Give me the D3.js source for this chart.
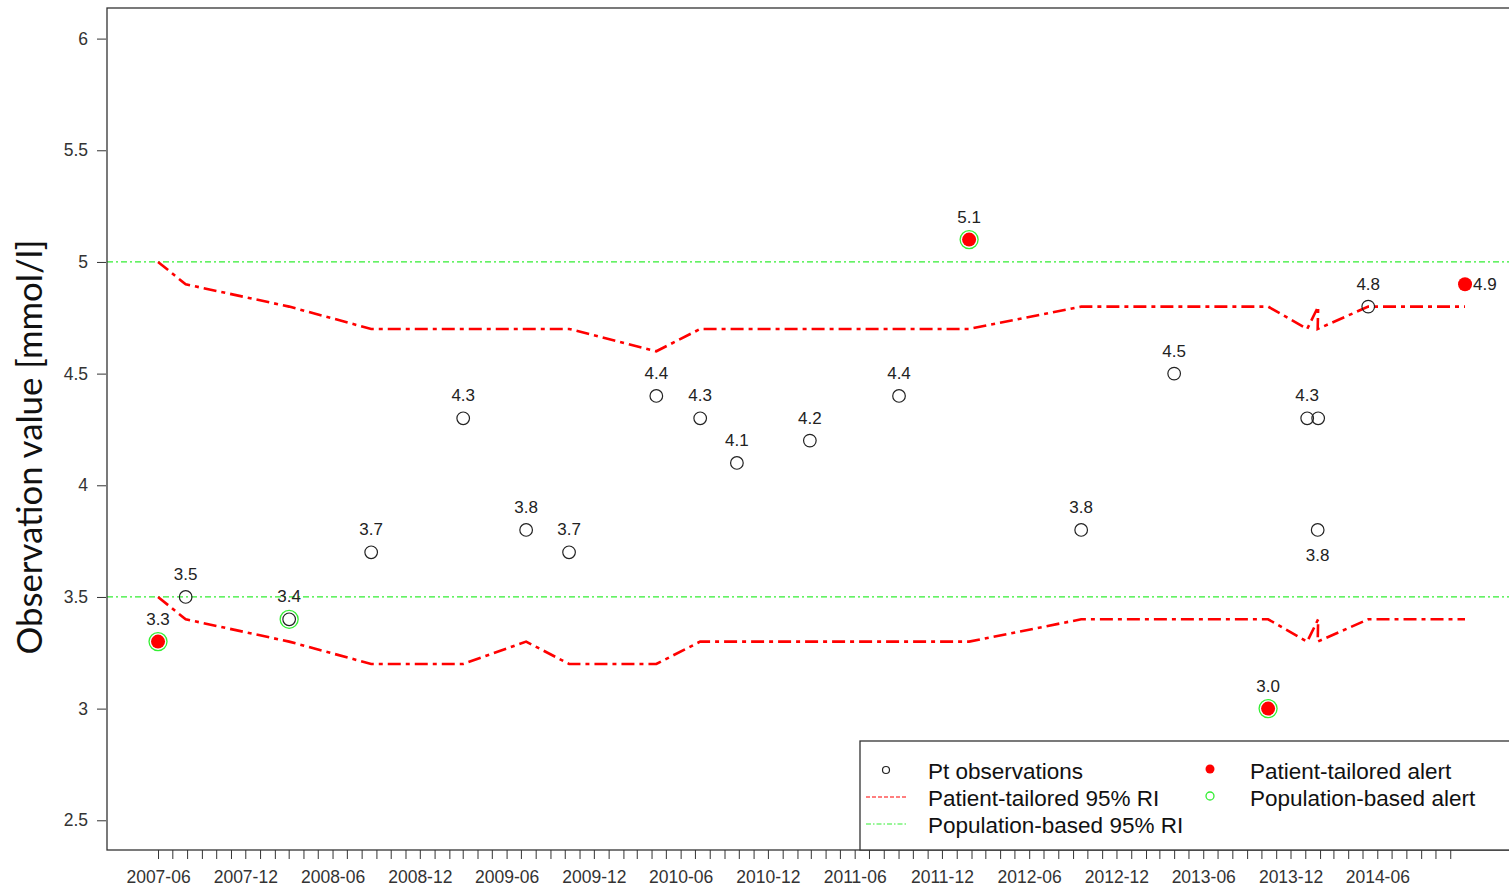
<!DOCTYPE html>
<html>
<head>
<meta charset="utf-8">
<script src="https://cdn.jsdelivr.net/npm/d3@7"></script>
<style>
  html, body { margin: 0; padding: 0; background: #fff; }
  svg { display: block; }
</style>
</head>
<body>
<svg id="chart" width="1509" height="888"></svg>
<script>
// ---------------- data ----------------
const obsDates = ["2007-06-01","2007-07-29","2008-03-02","2008-08-21","2009-03-02","2009-07-12","2009-10-10",
  "2010-04-11","2010-07-12","2010-09-27","2011-02-27","2011-09-02","2012-01-27","2012-09-18","2013-04-01",
  "2013-10-15","2014-01-05","2014-01-28","2014-01-27","2014-05-13","2014-12-02"];
const obsValues = [3.3,3.5,3.4,3.7,4.3,3.8,3.7,4.4,4.3,4.1,4.2,4.4,5.1,3.8,4.5,3.0,4.3,4.3,3.8,4.8,4.9];
const upperRI = [5.0,4.9,4.8,4.7,4.7,4.7,4.7,4.6,4.7,4.7,4.7,4.7,4.7,4.8,4.8,4.8,4.7,4.8,4.7,4.8,4.8];
const lowerRI = [3.5,3.4,3.3,3.2,3.2,3.3,3.2,3.2,3.3,3.3,3.3,3.3,3.3,3.4,3.4,3.4,3.3,3.4,3.3,3.4,3.4];
const patientAlert = [1,0,0,0,0,0,0,0,0,0,0,0,1,0,0,1,0,0,0,0,1];
const populationAlert = [1,0,1,0,0,0,0,0,0,0,0,0,1,0,0,1,0,0,0,0,0];
// R text() pos codes: 3 = above, 1 = below, 4 = right, 0 = no label
const labelPos = [3,3,3,3,3,3,3,3,3,3,3,3,3,3,3,3,3,0,1,3,4];
const popLimits = [3.5, 5.0];
const yTicks = [2.5,3,3.5,4,4.5,5,5.5,6];
const xTickStart = "2007-06-01", xTickEnd = "2014-11-01";
const yTitle = "Observation value [mmol/l]";
const legendLeft = ["Pt observations","Patient-tailored 95% RI","Population-based 95% RI"];
const legendRight = ["Patient-tailored alert","Population-based alert"];

// ---------------- layout ----------------
const parse = d3.utcParse("%Y-%m-%d");
const svg = d3.select("#chart");
const L = 107, R = 1517, T = 8, B = 850;
const RED = "#ff0000", GREEN = "#33ee33";
const FONT = "Liberation Sans, Arial, sans-serif";
const x = d3.scaleUtc().domain([parse("2007-02-14"), parse("2015-03-21")]).range([L, R]);
const y = d3.scaleLinear().domain([2.367, 6.137]).range([B, T]);

const data = obsDates.map((d, i) => ({
  date: parse(d), v: obsValues[i], up: upperRI[i], lo: lowerRI[i],
  pa: patientAlert[i], pop: populationAlert[i], pos: labelPos[i]
}));

// population-based lines
svg.selectAll("line.pop").data(popLimits).join("line")
  .attr("x1", L).attr("x2", R).attr("y1", d => y(d)).attr("y2", d => y(d))
  .attr("stroke", GREEN).attr("stroke-width", 1.2).attr("stroke-dasharray", "6,3,2,3");

// patient-tailored lines
const line = key => d3.line().x(d => x(d.date)).y(d => y(d[key]));
["up","lo"].forEach(k => {
  svg.append("path").datum(data).attr("d", line(k))
    .attr("fill", "none").attr("stroke", RED).attr("stroke-width", 2.6)
    .attr("stroke-dasharray", "13,5,4,5");
});

// points
const g = svg.append("g");
data.forEach(d => {
  const cx = x(d.date), cy = y(d.v);
  if (d.pop) g.append("circle").attr("cx", cx).attr("cy", cy).attr("r", 9)
      .attr("fill", "none").attr("stroke", GREEN).attr("stroke-width", 1.3);
  if (d.pa) g.append("circle").attr("cx", cx).attr("cy", cy).attr("r", 7).attr("fill", RED);
  else g.append("circle").attr("cx", cx).attr("cy", cy).attr("r", 6.3)
      .attr("fill", "none").attr("stroke", "#222").attr("stroke-width", 1.2);
  if (d.pos) {
    const t = g.append("text").text(d.v.toFixed(1))
      .attr("font-family", FONT).attr("font-size", 17).attr("fill", "#222");
    if (d.pos === 3) t.attr("x", cx).attr("y", cy - 17).attr("text-anchor", "middle");
    else if (d.pos === 1) t.attr("x", cx).attr("y", cy + 31).attr("text-anchor", "middle");
    else if (d.pos === 4) t.attr("x", cx + 8).attr("y", cy + 6).attr("text-anchor", "start");
  }
});

// frame
svg.append("rect").attr("x", L).attr("y", T).attr("width", R - L).attr("height", B - T)
  .attr("fill", "none").attr("stroke", "#333").attr("stroke-width", 1.3);

// y axis
const yAxis = svg.append("g").attr("transform", `translate(${L - 1},0)`)
  .call(d3.axisLeft(y).tickValues(yTicks).tickFormat(d => String(d)).tickSize(9).tickPadding(9));
yAxis.select(".domain").remove();
yAxis.selectAll("line").attr("stroke", "#333");
yAxis.selectAll("text").attr("font-family", FONT).attr("font-size", 17.5).attr("fill", "#333");

// x axis
const months = d3.utcMonth.range(parse(xTickStart), d3.utcMonth.offset(parse(xTickEnd), 1));
const xAxis = svg.append("g").attr("transform", `translate(0,${B})`)
  .call(d3.axisBottom(x).tickValues(months)
    .tickFormat(d => (d.getUTCMonth() === 5 || d.getUTCMonth() === 11) ? d3.utcFormat("%Y-%m")(d) : "")
    .tickSize(9).tickPadding(12));
xAxis.select(".domain").remove();
xAxis.selectAll("line").attr("stroke", "#333");
xAxis.selectAll("text").attr("font-family", FONT).attr("font-size", 17.5).attr("fill", "#333");

// y title
svg.append("text").attr("transform", "translate(42,447) rotate(-90)")
  .attr("text-anchor", "middle").attr("font-family", "Lato, sans-serif")
  .attr("font-size", 34).attr("textLength", 415).attr("lengthAdjust", "spacingAndGlyphs")
  .attr("fill", "#111").text(yTitle);

// legend
const lg = svg.append("g");
lg.append("rect").attr("x", 860).attr("y", 741).attr("width", 700).attr("height", B - 741)
  .attr("fill", "#fff").attr("stroke", "#333").attr("stroke-width", 1.3);
const rowY = [771, 798, 825];
legendLeft.forEach((t, i) => {
  lg.append("text").attr("x", 928).attr("y", rowY[i] + 8).attr("font-family", FONT)
    .attr("font-size", 22.5).attr("fill", "#111").text(t);
});
lg.append("circle").attr("cx", 886).attr("cy", rowY[0] - 1).attr("r", 3.5)
  .attr("fill", "none").attr("stroke", "#222").attr("stroke-width", 1.2);
lg.append("line").attr("x1", 866).attr("x2", 906).attr("y1", rowY[1] - 1).attr("y2", rowY[1] - 1)
  .attr("stroke", RED).attr("stroke-width", 1.2).attr("stroke-dasharray", "4,2");
lg.append("line").attr("x1", 866).attr("x2", 906).attr("y1", rowY[2] - 1).attr("y2", rowY[2] - 1)
  .attr("stroke", GREEN).attr("stroke-width", 1.2).attr("stroke-dasharray", "5,2,1.5,2");
legendRight.forEach((t, i) => {
  lg.append("text").attr("x", 1250).attr("y", rowY[i] + 8).attr("font-family", FONT)
    .attr("font-size", 22.5).attr("fill", "#111").text(t);
});
lg.append("circle").attr("cx", 1210).attr("cy", rowY[0] - 2).attr("r", 4.5).attr("fill", RED);
lg.append("circle").attr("cx", 1210).attr("cy", rowY[1] - 2).attr("r", 4)
  .attr("fill", "none").attr("stroke", GREEN).attr("stroke-width", 1.3);
</script>
</body>
</html>
